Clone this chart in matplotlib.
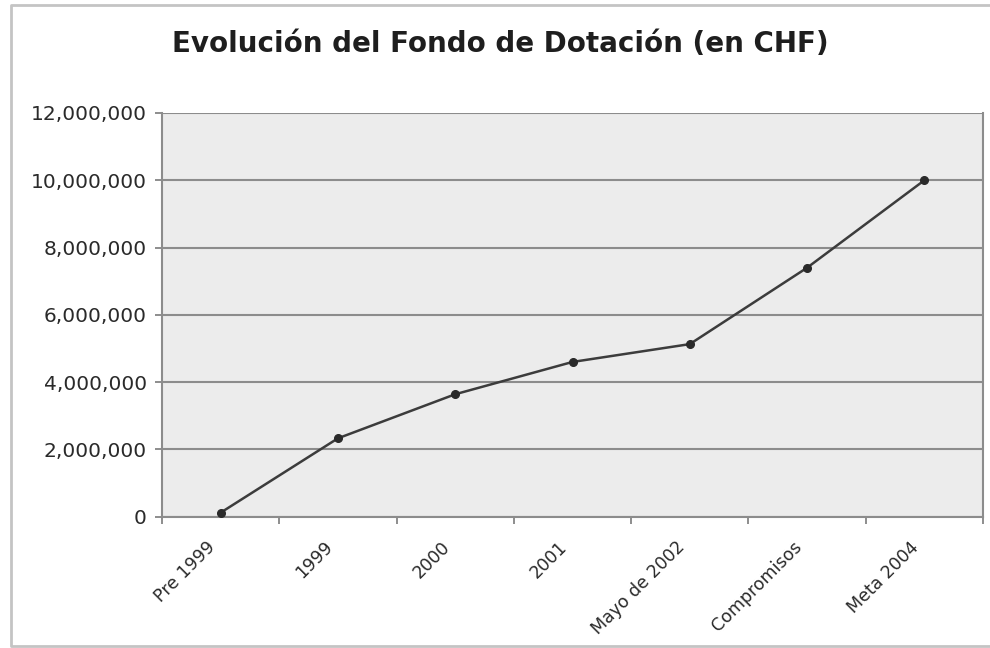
import matplotlib
matplotlib.use("Agg")
import matplotlib.pyplot as plt
from matplotlib.ticker import FuncFormatter, FixedLocator, NullFormatter
from matplotlib.transforms import ScaledTranslation
import matplotlib.lines as mlines

plt.rcParams['font.family'] = ['DejaVu Sans']

categories = ["Pre 1999", "1999", "2000", "2001", "Mayo de 2002", "Compromisos", "Meta 2004"]
values = [120000, 2330000, 3640000, 4600000, 5130000, 7400000, 10000000]
yticks = [0, 2000000, 4000000, 6000000, 8000000, 10000000, 12000000]
title = "Evolución del Fondo de Dotación (en CHF)"

W, H = 990, 648
fig = plt.figure(figsize=(9.9, 6.48), dpi=100)
fig.patch.set_facecolor("white")

# chart-area border (left, top, bottom)
bx, bt, bb = 11 / W, 1 - 5 / H, 1 - 646 / H
fig.add_artist(mlines.Line2D([1.0, bx, bx, 1.0], [bt, bt, bb, bb],
                             transform=fig.transFigure, color="#c4c4c4", linewidth=2))

ax = fig.add_axes([162 / W, 1 - 516.7 / H, (983 - 162) / W, (516.7 - 113) / H])
ax.set_facecolor("#ececec")
x = list(range(len(categories)))
ax.plot(x, values, color="#3c3c3c", linewidth=1.8, marker="o", markersize=5.5,
        markerfacecolor="#2a2a2a", markeredgecolor="#2a2a2a", zorder=3)

ax.set_xlim(-0.5, len(categories) - 0.5)
ax.set_ylim(0, 12000000)
ax.set_yticks(yticks)
ax.yaxis.set_major_formatter(FuncFormatter(lambda v, p: f"{int(v):,}"))
ax.grid(axis="y", color="#8c8c8c", linewidth=1.5)
ax.set_axisbelow(True)

# x ticks at category boundaries, labels at category centres
ax.xaxis.set_major_locator(FixedLocator([i - 0.5 for i in range(len(categories) + 1)]))
ax.xaxis.set_major_formatter(NullFormatter())
ax.xaxis.set_minor_locator(FixedLocator(x))
ax.set_xticklabels(categories, minor=True, rotation=45, ha="right", va="center",
                   rotation_mode="anchor", fontsize=12.5, color="#2a2a2a")
ax.tick_params(axis="x", which="minor", length=0, pad=20)
ax.tick_params(axis="x", which="major", length=5, width=1.2, color="#7a7a7a", direction="out")
ax.tick_params(axis="y", length=5, width=1.2, color="#7a7a7a", labelsize=14.5,
               labelcolor="#2a2a2a", pad=6)
offset = ScaledTranslation(-8 / 100, 0, fig.dpi_scale_trans)
for lab in ax.get_xticklabels(minor=True):
    lab.set_transform(lab.get_transform() + offset)

ax.spines["top"].set_visible(False)
for s in ["left", "bottom", "right"]:
    ax.spines[s].set_color("#8c8c8c")
    ax.spines[s].set_linewidth(1.5)

fig.text(500 / W, 1 - 44 / H, title, ha="center", va="center", fontsize=20,
         fontweight="bold", color="#1e1e1e")

fig.savefig("out.png", dpi=100)
